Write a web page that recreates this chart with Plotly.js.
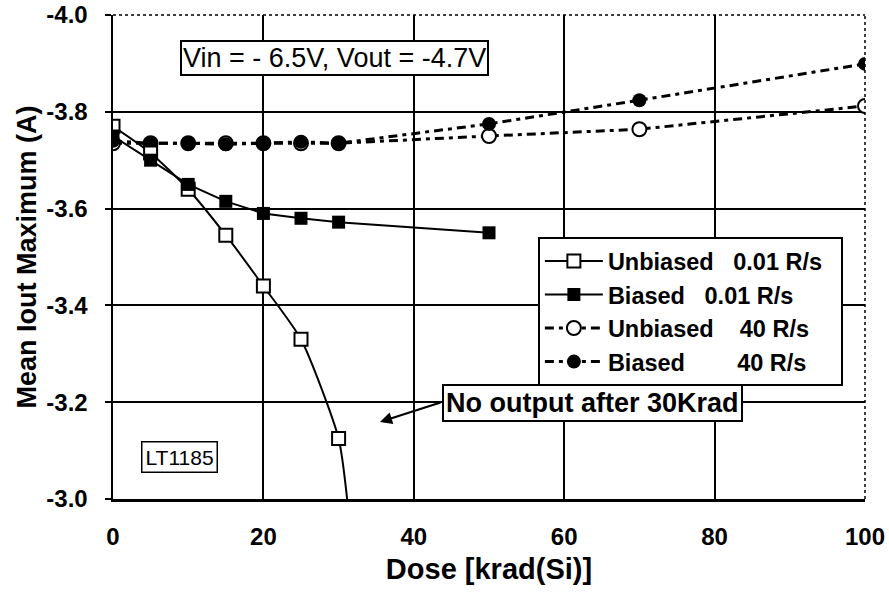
<!DOCTYPE html>
<html>
<head>
<meta charset="utf-8">
<script src="https://cdn.plot.ly/plotly-3.0.1.min.js"></script>
<style>
  html, body { margin: 0; padding: 0; background: #fff; }
  #chart { width: 889px; height: 597px; }
</style>
</head>
<body>
<div id="chart"></div>
<script>
// LT1185 mean maximum output current versus total dose
// (the last unbiased 0.01 R/s point lies below -3.0 A, so only the line reaching it shows)
const unbiased01Dose = [0, 5, 10, 15, 20, 25, 30, 31.4];
const unbiased01Iout = [-3.77, -3.715, -3.64, -3.545, -3.44, -3.33, -3.125, -2.96];

const biased01Dose = [0, 5, 10, 15, 20, 25, 30, 50];
const biased01Iout = [-3.75, -3.70, -3.65, -3.615, -3.59, -3.58, -3.572, -3.55];

const dose40 = [0, 5, 10, 15, 20, 25, 30, 50, 70, 100];
const unbiased40Iout = [-3.735, -3.735, -3.735, -3.735, -3.735, -3.735, -3.735, -3.75, -3.764, -3.812];
const biased40Iout = [-3.74, -3.735, -3.735, -3.733, -3.735, -3.738, -3.735, -3.775, -3.824, -3.899];

const xTickVals = [0, 20, 40, 60, 80, 100];
const yTickVals = [-4.0, -3.8, -3.6, -3.4, -3.2, -3.0];
const yTickText = ['-4.0', '-3.8', '-3.6', '-3.4', '-3.2', '-3.0'];

const NB = '\u00a0';
const seriesNames = [
  'Unbiased' + NB.repeat(3) + '0.01 R/s' + NB.repeat(2),
  'Biased' + NB.repeat(3) + '0.01 R/s',
  'Unbiased' + NB.repeat(4) + '40 R/s',
  'Biased' + NB.repeat(8) + '40 R/s'
];

const FONT = 'Liberation Sans, Arial, sans-serif';
const dashDot = '9px,5px,4px,5px';

const traces = [
  {
    x: dose40, y: unbiased40Iout, name: seriesNames[2], legendrank: 3, legendgroup: 'c',
    mode: 'lines+markers', type: 'scatter',
    line: {color: '#000', width: 3, dash: dashDot},
    marker: {symbol: 'circle', size: 14, color: '#fff', line: {width: 2, color: '#000'}}
  },
  {
    x: dose40, y: biased40Iout, name: seriesNames[3], legendrank: 4, legendgroup: 'd',
    mode: 'lines+markers', type: 'scatter',
    line: {color: '#000', width: 3, dash: dashDot},
    marker: {symbol: 'circle', size: 14, color: '#000'}
  },
  {
    x: unbiased01Dose, y: unbiased01Iout, name: seriesNames[0], legendrank: 1, legendgroup: 'a',
    mode: 'lines+markers', type: 'scatter',
    line: {color: '#000', width: 2, shape: 'spline', smoothing: 0.6},
    marker: {symbol: 'square', size: 13, color: '#fff', line: {width: 2, color: '#000'}}
  },
  {
    x: biased01Dose, y: biased01Iout, name: seriesNames[1], legendrank: 2, legendgroup: 'b',
    mode: 'lines+markers', type: 'scatter',
    line: {color: '#000', width: 2},
    marker: {symbol: 'square', size: 13, color: '#000'}
  }
];

const layout = {
  width: 889, height: 597,
  paper_bgcolor: '#fff', plot_bgcolor: '#fff',
  margin: {l: 113, r: 24, t: 15, b: 98},
  font: {family: FONT, color: '#000'},
  showlegend: true,
  legend: {
    x: 0.565, y: 0.541, xanchor: 'left', yanchor: 'top',
    bgcolor: '#fff', bordercolor: '#000', borderwidth: 2,
    font: {family: FONT, size: 23.5, color: '#000', weight: 'bold'},
    traceorder: 'grouped', tracegroupgap: 0, itemwidth: 58
  },
  xaxis: {
    range: [0, 100], tickvals: xTickVals, ticks: '', ticklabelstandoff: 15,
    showgrid: true, gridcolor: '#000', gridwidth: 2,
    showline: true, linecolor: '#000', linewidth: 2.5, zeroline: false,
    tickfont: {family: FONT, size: 24, color: '#000', weight: 'bold'},
    title: {text: 'Dose [krad(Si)]', standoff: 10,
            font: {family: FONT, size: 29, color: '#000', weight: 'bold'}}
  },
  yaxis: {
    range: [-3.0, -4.0], tickvals: yTickVals, ticktext: yTickText,
    ticks: 'outside', ticklen: 6, tickwidth: 2, tickcolor: '#000', ticklabelstandoff: 12,
    showgrid: true, gridcolor: '#000', gridwidth: 2,
    showline: true, linecolor: '#000', linewidth: 2.5, zeroline: false,
    tickfont: {family: FONT, size: 24, color: '#000', weight: 'bold'},
    title: {text: 'Mean Iout Maximum (A)', standoff: 2,
            font: {family: FONT, size: 27, color: '#000', weight: 'bold'}}
  },
  shapes: [
    {type: 'line', xref: 'paper', yref: 'paper', x0: 0, x1: 1, y0: 1, y1: 1,
     line: {color: '#000', width: 1.5, dash: 'dot'}},
    {type: 'line', xref: 'paper', yref: 'paper', x0: 1, x1: 1, y0: 0, y1: 1,
     line: {color: '#000', width: 1.5, dash: 'dot'}}
  ],
  annotations: [
    {x: 29.5, y: -3.912, xref: 'x', yref: 'y', showarrow: false,
     text: 'Vin = - 6.5V, Vout = -4.7V',
     font: {family: FONT, size: 27, color: '#000'},
     bgcolor: '#fff', bordercolor: '#000', borderwidth: 2, borderpad: 1},
    {x: 8.9, y: -3.087, xref: 'x', yref: 'y', showarrow: false,
     text: 'LT1185',
     font: {family: FONT, size: 21, color: '#000'},
     bgcolor: '#fff', bordercolor: '#000', borderwidth: 1.5, borderpad: 3},
    {x: 63.7, y: -3.198, xref: 'x', yref: 'y', showarrow: false,
     text: 'No output after 30Krad',
     font: {family: FONT, size: 27, color: '#000', weight: 'bold'},
     bgcolor: '#fff', bordercolor: '#000', borderwidth: 2, borderpad: 2},
    {x: 35.5, y: -3.159, xref: 'x', yref: 'y',
     ax: 43.75, ay: -3.2004, axref: 'x', ayref: 'y',
     text: '', showarrow: true, arrowhead: 2, arrowsize: 1.1, arrowwidth: 2.2, arrowcolor: '#000'}
  ]
};

Plotly.newPlot('chart', traces, layout, {displayModeBar: false, staticPlot: true});
</script>
</body>
</html>
